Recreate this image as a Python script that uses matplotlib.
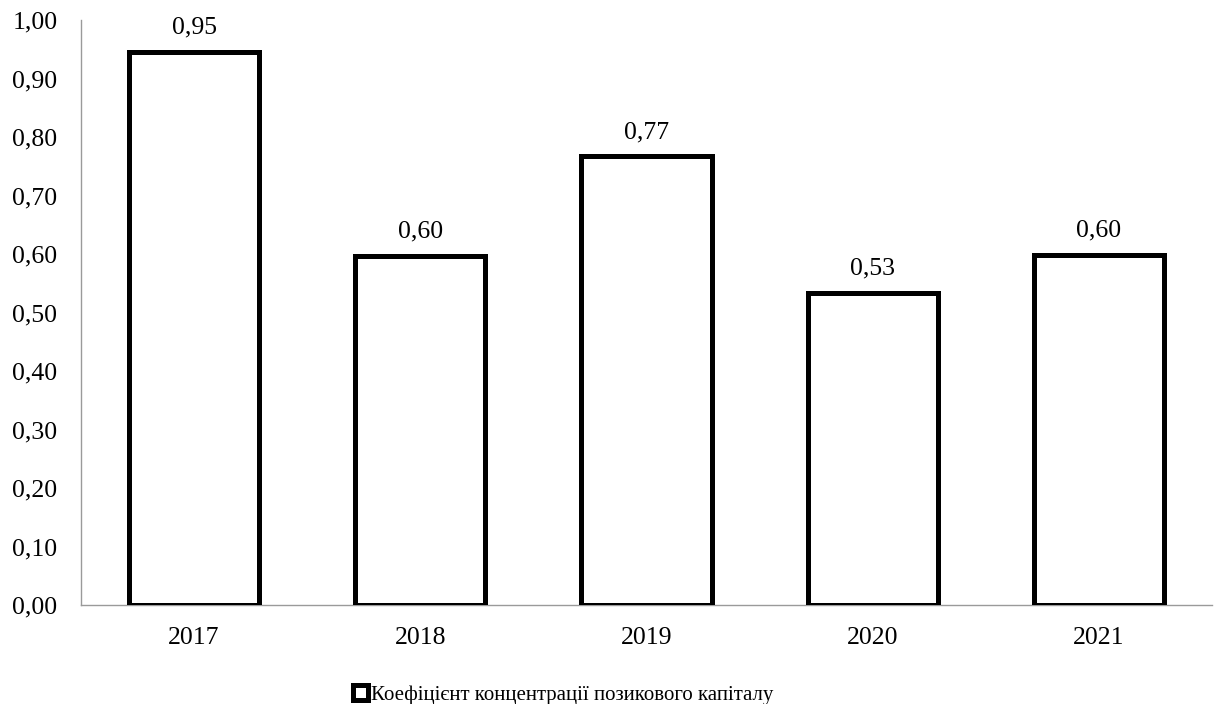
import matplotlib.pyplot as plt
import numpy as np

plt.rcParams["font.family"] = ["Liberation Serif", "DejaVu Serif"]

years = ["2017", "2018", "2019", "2020", "2021"]
ratio = [0.946, 0.597, 0.767, 0.534, 0.599]
labels = ["0,95", "0,60", "0,77", "0,53", "0,60"]
legend_name = "Коефіцієнт концентрації позикового капіталу"

fig = plt.figure(figsize=(12.14, 7.04), dpi=100)
ax = fig.add_axes([81 / 1214, 1 - 605 / 704, 1131 / 1214, 585 / 704])

x = np.arange(len(years))
bars = ax.bar(x, ratio, width=0.575, facecolor="white", edgecolor="black",
              linewidth=3.6, label=legend_name, zorder=3)

for xi, v, lab in zip(x, ratio, labels):
    ax.text(xi, v + 0.022, lab, ha="center", va="bottom", fontsize=18.5)

ax.set_xlim(-0.5, len(years) - 0.5)
ax.set_ylim(0, 1.0)
ticks = np.arange(0, 1.01, 0.1)
ax.set_yticks(ticks)
ax.set_yticklabels([f"{t:.2f}".replace(".", ",") for t in ticks], fontsize=18.5)
ax.set_xticks(x)
ax.set_xticklabels(years, fontsize=18.5)
ax.tick_params(length=0)
ax.tick_params(axis="x", pad=16)
ax.tick_params(axis="y", pad=17)

for side in ["top", "right"]:
    ax.spines[side].set_visible(False)
for side in ["left", "bottom"]:
    ax.spines[side].set_color("#9a9a9a")
    ax.spines[side].set_linewidth(1.0)

fig.legend(handles=[bars], labels=[legend_name], loc="lower center",
           bbox_to_anchor=(0.464, -0.028), frameon=False, fontsize=15,
           handlelength=0.75, handleheight=0.75, handletextpad=0.15)

fig.savefig("out.png", dpi=100)
